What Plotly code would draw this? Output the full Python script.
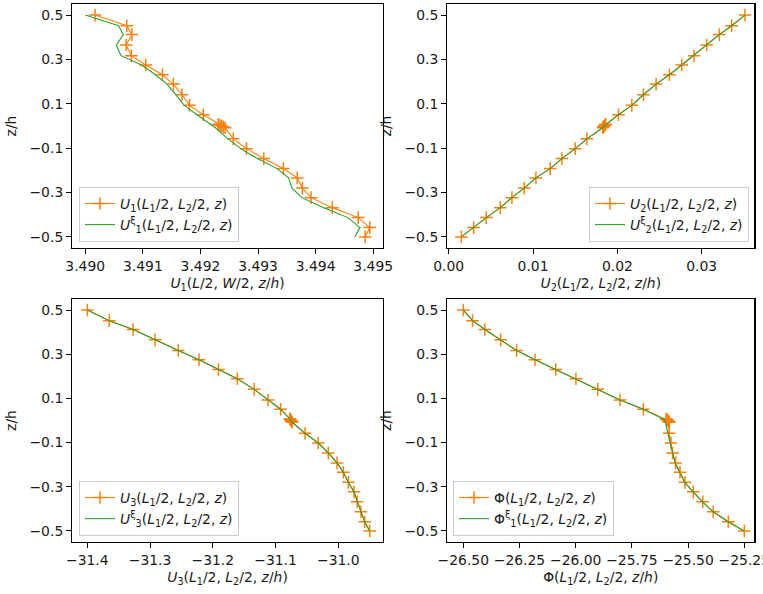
import plotly.graph_objects as go

# ---------------- data ----------------
# z/h positions of the sampled points (same grid for every panel)
z = [0.5, 0.452, 0.412, 0.365, 0.317, 0.275, 0.231, 0.189, 0.141, 0.093, 0.051,
     0.008, 0.004, 0.0, -0.004, -0.008,
     -0.058, -0.102, -0.147, -0.192, -0.234, -0.280, -0.323, -0.368, -0.413, -0.458, -0.5]

u1 = [3.49017, 3.49072, 3.49081, 3.49071, 3.49080, 3.49105, 3.49134, 3.49153, 3.49168, 3.49181, 3.49205,
      3.49231, 3.49234, 3.49237, 3.49240, 3.49243,
      3.49257, 3.49280, 3.49310, 3.49344, 3.49368, 3.49377, 3.49392, 3.49429, 3.49474, 3.49494, 3.49486]
u1_xi = [3.49000, 3.49058, 3.49066, 3.49054, 3.49062, 3.49098, 3.49122, 3.49142, 3.49157, 3.49172, 3.49194,
         3.49218, 3.49220, 3.49222, 3.49224, 3.49226,
         3.49248, 3.49270, 3.49299, 3.49333, 3.49353, 3.49359, 3.49376, 3.49414, 3.49456, 3.49477, 3.49468]

u2 = [0.03513, 0.03355, 0.03209, 0.03059, 0.02909, 0.02763, 0.02617, 0.02459, 0.02309, 0.02171, 0.02013,
      0.01862, 0.01853, 0.01844, 0.01835, 0.01826,
      0.01638, 0.01500, 0.01342, 0.01204, 0.01034, 0.00896, 0.00750, 0.00612, 0.00446, 0.00296, 0.00150]
u2_xi = list(u2)

u3 = [-31.400, -31.365, -31.327, -31.292, -31.255, -31.222, -31.191, -31.161, -31.134, -31.112, -31.092,
      -31.0775, -31.0765, -31.0755, -31.0745, -31.0735,
      -31.053, -31.032, -31.016, -31.002, -30.992, -30.984, -30.975, -30.970, -30.964, -30.958, -30.950]
u3_xi = list(u3)

phi = [-26.500, -26.459, -26.404, -26.334, -26.263, -26.181, -26.089, -25.999, -25.902, -25.803, -25.699,
       -25.598, -25.594, -25.590, -25.586, -25.583,
       -25.584, -25.576, -25.569, -25.556, -25.536, -25.514, -25.477, -25.435, -25.388, -25.321, -25.250]
phi_xi = [-26.500, -26.459, -26.404, -26.334, -26.263, -26.181, -26.089, -25.999, -25.902, -25.803, -25.699,
          -25.607, -25.606, -25.605, -25.603, -25.600,
          -25.590, -25.580, -25.571, -25.558, -25.538, -25.515, -25.478, -25.436, -25.389, -25.322, -25.250]

y_ticks = [0.5, 0.3, 0.1, -0.1, -0.3, -0.5]
x_ticks_u1 = [3.490, 3.491, 3.492, 3.493, 3.494, 3.495]
x_ticks_u2 = [0.00, 0.01, 0.02, 0.03]
x_ticks_u3 = [-31.4, -31.3, -31.2, -31.1, -31.0]
x_ticks_phi = [-26.50, -26.25, -26.00, -25.75, -25.50, -25.25]

leg_u1 = ["<i>U</i><sub>1</sub>(<i>L</i><sub>1</sub>/2, <i>L</i><sub>2</sub>/2, <i>z</i>)",
          "<i>U</i><sup>ξ</sup><sub>1</sub>(<i>L</i><sub>1</sub>/2, <i>L</i><sub>2</sub>/2, <i>z</i>)"]
leg_u2 = ["<i>U</i><sub>2</sub>(<i>L</i><sub>1</sub>/2, <i>L</i><sub>2</sub>/2, <i>z</i>)",
          "<i>U</i><sup>ξ</sup><sub>2</sub>(<i>L</i><sub>1</sub>/2, <i>L</i><sub>2</sub>/2, <i>z</i>)"]
leg_u3 = ["<i>U</i><sub>3</sub>(<i>L</i><sub>1</sub>/2, <i>L</i><sub>2</sub>/2, <i>z</i>)",
          "<i>U</i><sup>ξ</sup><sub>3</sub>(<i>L</i><sub>1</sub>/2, <i>L</i><sub>2</sub>/2, <i>z</i>)"]
leg_phi = ["Φ(<i>L</i><sub>1</sub>/2, <i>L</i><sub>2</sub>/2, <i>z</i>)",
           "Φ<sup>ξ</sup><sub>1</sub>(<i>L</i><sub>1</sub>/2, <i>L</i><sub>2</sub>/2, <i>z</i>)"]

xt_u1 = "<i>U</i><sub>1</sub>(<i>L</i>/2, <i>W</i>/2, <i>z</i>/<i>h</i>)"
xt_u2 = "<i>U</i><sub>2</sub>(<i>L</i><sub>1</sub>/2, <i>L</i><sub>2</sub>/2, <i>z</i>/<i>h</i>)"
xt_u3 = "<i>U</i><sub>3</sub>(<i>L</i><sub>1</sub>/2, <i>L</i><sub>2</sub>/2, <i>z</i>/<i>h</i>)"
xt_phi = "Φ(<i>L</i><sub>1</sub>/2, <i>L</i><sub>2</sub>/2, <i>z</i>/<i>h</i>)"

# ---------------- figure ----------------
ORANGE = "#ff7f0e"
GREEN = "#2ca02c"
FONT = "DejaVu Sans"
FS = 13.9
TXT = "#1a1a1a"

W, H = 763, 594
def px_x(a, b):
    return [a / W, b / W]
def px_y(top, bottom):
    return [1 - bottom / H, 1 - top / H]

fig = go.Figure()

panels = [
    (u1, u1_xi, leg_u1, "x", "y", "legend"),
    (u2, u2_xi, leg_u2, "x2", "y2", "legend2"),
    (u3, u3_xi, leg_u3, "x3", "y3", "legend3"),
    (phi, phi_xi, leg_phi, "x4", "y4", "legend4"),
]
for xd, xid, names, xa, ya, lg in panels:
    fig.add_trace(go.Scatter(
        x=xd, y=z, xaxis=xa, yaxis=ya, legend=lg, name=names[0],
        mode="lines+markers",
        line=dict(color=ORANGE, width=1.1),
        marker=dict(symbol="cross-thin", size=9, color=ORANGE,
                    line=dict(color=ORANGE, width=1.5)),
    ))
    fig.add_trace(go.Scatter(
        x=xid, y=z, xaxis=xa, yaxis=ya, legend=lg, name=names[1],
        mode="lines",
        line=dict(color=GREEN, width=1.1),
    ))

axis_common = dict(
    showline=True, linecolor="black", linewidth=1, mirror=True,
    ticks="outside", ticklen=5, tickwidth=1, tickcolor="black",
    showgrid=False, zeroline=False, automargin=False,
    ticklabeloverflow="allow",
    tickfont=dict(family=FONT, size=FS, color=TXT),
)
ytitle = dict(text="z/h", font=dict(family=FONT, size=FS, color=TXT), standoff=9)

def xtitle(t):
    return dict(text=t, font=dict(family=FONT, size=FS, color=TXT), standoff=5)

LX = px_x(72, 383)
RX = px_x(447, 754.5)
TY = px_y(4, 248)
BY = px_y(299, 542)

fig.update_layout(
    width=W, height=H,
    margin=dict(l=0, r=0, t=0, b=0, autoexpand=False),
    paper_bgcolor="white", plot_bgcolor="white",
    font=dict(family=FONT, size=FS, color=TXT),
    xaxis=dict(domain=LX, anchor="y", range=[3.48977, 3.49517],
               tickvals=x_ticks_u1, tickformat=".3f", title=xtitle(xt_u1), **axis_common),
    yaxis=dict(domain=TY, anchor="x", range=[-0.55, 0.55],
               tickvals=y_ticks, tickformat=".1f", title=ytitle, **axis_common),
    xaxis2=dict(domain=RX, anchor="y2", range=[-0.0002, 0.03626],
                tickvals=x_ticks_u2, tickformat=".2f", title=xtitle(xt_u2), **axis_common),
    yaxis2=dict(domain=TY, anchor="x2", range=[-0.55, 0.55],
                tickvals=y_ticks, tickformat=".1f", title=ytitle, **axis_common),
    xaxis3=dict(domain=LX, anchor="y3", range=[-31.4244, -30.9288],
                tickvals=x_ticks_u3, tickformat=".1f", title=xtitle(xt_u3), **axis_common),
    yaxis3=dict(domain=BY, anchor="x3", range=[-0.55, 0.55],
                tickvals=y_ticks, tickformat=".1f", title=ytitle, **axis_common),
    xaxis4=dict(domain=RX, anchor="y4", range=[-26.5725, -25.2046],
                tickvals=x_ticks_phi, tickformat=".2f", title=xtitle(xt_phi), **axis_common),
    yaxis4=dict(domain=BY, anchor="x4", range=[-0.55, 0.55],
                tickvals=y_ticks, tickformat=".1f", title=ytitle, **axis_common),
)

# explicit right-hand frame lines for the right column
for xa, ya in (("x2", "y2"), ("x4", "y4")):
    fig.add_shape(type="line", xref=f"{xa} domain", yref=f"{ya} domain",
                  x0=1, x1=1, y0=0, y1=1, line=dict(color="black", width=1), layer="above")

leg_common = dict(bgcolor="rgba(255,255,255,0.8)", bordercolor="#cccccc", borderwidth=1,
                  font=dict(family=FONT, size=FS, color=TXT), itemwidth=30,
                  tracegroupgap=0)
fig.update_layout(
    legend=dict(x=79 / W, y=1 - 242 / H, xanchor="left", yanchor="bottom", **leg_common),
    legend2=dict(x=749 / W, y=1 - 242 / H, xanchor="right", yanchor="bottom", **leg_common),
    legend3=dict(x=79 / W, y=1 - 536 / H, xanchor="left", yanchor="bottom", **leg_common),
    legend4=dict(x=453 / W, y=1 - 536 / H, xanchor="left", yanchor="bottom", **leg_common),
)

fig.write_html(
    "out.html", config={"displayModeBar": False},
    post_script=("document.documentElement.style.overflow='hidden';"
                 "document.body.style.overflow='hidden';"
                 "document.body.style.margin='0px';"
                 "document.body.style.padding='0px';"),
)
